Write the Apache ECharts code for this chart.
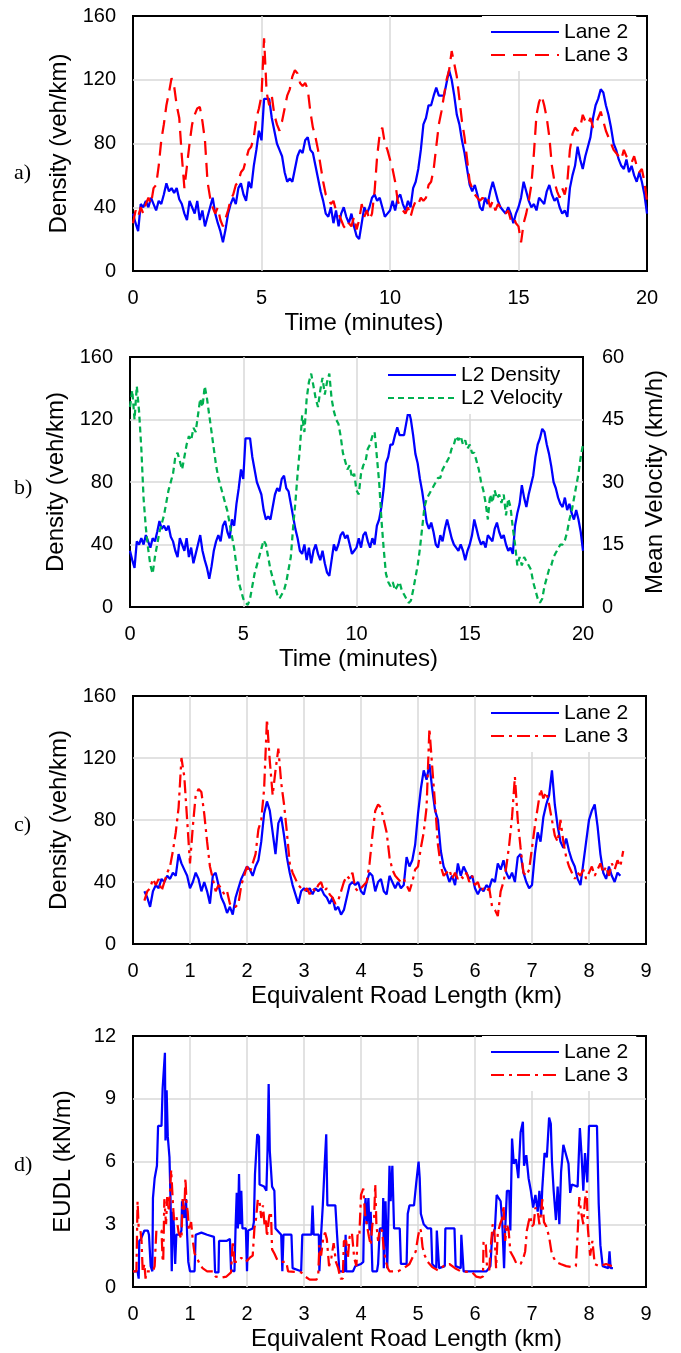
<!DOCTYPE html>
<html>
<head>
<meta charset="utf-8">
<title>Lane density, velocity and EUDL</title>
<script src="https://cdn.jsdelivr.net/npm/echarts@6/dist/echarts.min.js"></script>
<style>
    html, body { margin: 0; padding: 0; background: #fff; }
    #chart { width: 681px; height: 1353px; }
</style>
</head>
<body>
<div id="chart"></div>
<script>
// readings every 0.1 min, t = 0 .. 20
var timeStep = 0.1;
var lane2Density = [
    36, 30, 25, 42, 40, 44, 40, 46, 42, 38,
    44, 42, 48, 55, 50, 52, 49, 52, 45, 42,
    36, 32, 44, 40, 36, 44, 32, 38, 28, 34,
    40, 46, 36, 30, 25, 18, 26, 36, 42, 46,
    42, 52, 55, 48, 44, 56, 52, 66, 76, 88,
    82, 108, 108, 108, 96, 88, 80, 76, 72, 62,
    56, 58, 56, 64, 72, 76, 74, 82, 84, 76,
    74, 66, 58, 50, 44, 36, 34, 40, 30, 38,
    28, 36, 40, 34, 30, 36, 28, 22, 20, 30,
    40, 36, 40, 46, 48, 44, 46, 40, 34, 36,
    38, 44, 38, 46, 48, 42, 38, 44, 40, 52,
    56, 64, 76, 92, 96, 104, 104, 110, 115, 110,
    110, 110, 118, 126, 120, 110, 98, 92, 82, 74,
    64, 54, 50, 54, 48, 40, 38, 46, 42, 50,
    56, 50, 44, 40, 38, 36, 40, 36, 30, 36,
    40, 46, 56, 50, 44, 40, 42, 38, 46, 44,
    42, 50, 54, 48, 44, 46, 40, 36, 38, 34,
    52, 60, 66, 78, 70, 64, 72, 78, 84, 96,
    104, 108, 114, 112, 104, 98, 90, 80, 76, 70,
    66, 64, 70, 62, 66, 60, 56, 62, 56, 48,
    36
];
var lane3Density = [
    30, 38, 34, 40, 36, 42, 46, 42, 52, 54,
    66, 82, 92, 104, 112, 121, 116, 104, 96, 72,
    52, 66, 80, 92, 98, 102, 103, 94, 82, 56,
    46, 40, 36, 40, 32, 28, 33, 38, 45, 48,
    54, 56, 62, 64, 70, 76, 78, 84, 96, 102,
    110, 146, 112, 104, 110, 98, 92, 88, 94, 102,
    110, 114, 122, 126, 124, 118, 116, 118, 114, 100,
    90, 84, 76, 66, 56, 48, 46, 42, 44, 38,
    36, 32, 28, 26, 30, 28, 34, 26, 32, 42,
    34, 38, 32, 36, 50, 72, 86, 90, 80, 76,
    70, 64, 56, 44, 40, 38, 36, 40, 34, 40,
    44, 42, 46, 44, 46, 54, 56, 64, 78, 92,
    100, 110, 120, 126, 138, 130, 122, 108, 94, 84,
    70, 56, 52, 48, 46, 44, 46, 44, 46, 40,
    44, 38, 42, 40, 38, 36, 38, 32, 34, 30,
    28, 18, 30, 36, 44, 54, 74, 98, 106, 110,
    104, 96, 84, 66, 56, 50, 46, 52, 48, 56,
    76, 86, 90, 88, 90, 98, 94, 92, 96, 90,
    92, 96, 100, 94, 88, 84, 80, 76, 74, 72,
    70, 76, 72, 70, 68, 72, 66, 62, 64, 56,
    44
];
var lane2Velocity = [
    48, 52, 45, 53, 47, 38, 26, 19, 14, 10,
    8, 12, 15, 18, 20, 22, 25, 28, 30, 32,
    36, 37, 35, 33, 36, 39, 41, 40, 43, 42,
    46, 50, 48, 53, 50, 46, 42, 38, 34, 31,
    29, 27, 25, 23, 20, 17, 14, 10, 6, 4,
    2, 1, 0.5, 2, 5, 8, 10, 12, 14, 16,
    15, 12, 9, 7, 5, 3, 2, 3, 4, 6,
    9, 12, 19, 25, 32, 38, 46, 42, 50, 54,
    56, 53, 50, 48, 52, 55, 51, 54, 56, 50,
    47, 45, 44, 41, 37, 35, 33, 34, 31, 32,
    28, 27, 32, 34, 35, 38, 39, 41, 42, 36,
    30, 21, 14, 8, 6, 5, 6, 4, 5, 6,
    4, 3, 2, 1, 1.5, 4, 7, 10, 14, 19,
    24, 26, 27, 28, 29, 30, 31, 31, 33, 34,
    35, 36, 38, 39, 41, 40, 41, 39, 40, 38,
    39, 37, 37, 35, 33, 30, 28, 25, 21, 27,
    25, 28, 26, 27, 25, 27, 22, 26, 24, 19,
    15, 10, 12, 10, 12, 11, 10, 9, 6, 4,
    2, 1, 2, 5, 7, 9, 10, 12, 13, 14,
    15, 15, 16, 18, 21, 23, 26, 29, 32, 36,
    39
];

// readings every 0.05 km of equivalent road length, from 0.2 km
var lenStart = 0.2;
var lenStep = 0.05;
var lane2DensityLen = [
    34, 30, 24, 34, 38, 36, 42, 40, 44, 42,
    46, 44, 58, 52, 48, 44, 36, 40, 46, 42,
    34, 40, 34, 26, 44, 46, 38, 30, 26, 20,
    24, 19, 30, 36, 42, 46, 50, 48, 44, 50,
    54, 66, 84, 92, 86, 72, 58, 78, 82, 70,
    56, 46, 38, 32, 26, 34, 36, 34, 36, 32,
    36, 34, 36, 32, 30, 26, 30, 22, 24, 19,
    22, 30, 38, 40, 38, 40, 34, 32, 40, 46,
    44, 34, 40, 42, 34, 32, 44, 40, 36, 40,
    36, 38, 56, 50, 54, 64, 84, 100, 112, 106,
    116, 100, 86, 80, 60, 50, 46, 40, 44, 38,
    52, 44, 50, 46, 42, 44, 36, 32, 36, 34,
    38, 36, 42, 40, 52, 48, 54, 46, 42, 46,
    40, 56, 58, 46, 40, 36, 38, 58, 72, 66,
    82, 90, 96, 112, 90, 76, 66, 62, 68, 60,
    54, 50, 42, 38, 52, 66, 80, 86, 90, 76,
    58, 46, 42, 50, 44, 40, 46, 44
];
var lane3DensityLen = [
    28, 34, 36, 42, 38, 42, 34, 40, 46, 50,
    60, 72, 88, 120, 108, 80, 52, 76, 96, 100,
    98, 84, 66, 50, 42, 34, 38, 36, 32, 34,
    26, 24, 24, 26, 38, 44, 50, 46, 52, 58,
    74, 80, 100, 145, 118, 96, 112, 126, 104, 90,
    72, 52, 46, 42, 38, 36, 34, 36, 32, 36,
    34, 38, 40, 34, 36, 32, 30, 26, 28, 34,
    40, 44, 42, 46, 36, 34, 36, 38, 40, 52,
    70, 86, 90, 88, 80, 72, 56, 48, 44, 42,
    40, 42, 38, 34, 40, 48, 50, 62, 72, 88,
    139, 114, 90, 64, 50, 44, 46, 48, 42, 46,
    42, 44, 42, 46, 40, 44, 38, 40, 34, 36,
    34, 36, 24, 22, 18, 34, 40, 50, 64, 82,
    108, 80, 62, 46, 44, 48, 62, 76, 88, 100,
    94, 98, 90, 80, 70, 66, 80, 66, 56, 50,
    46, 42, 46, 44, 48, 42, 46, 50, 44, 48,
    52, 46, 50, 44, 52, 48, 54, 50, 60
];

// EUDL (kN/m) as [km, value]
var lane2Eudl = [
    [0, 0.75], [0.08, 0.75], [0.1, 0.4], [0.11, 2.2], [0.14, 2.3], [0.2, 2.7], [0.26, 2.7],
    [0.28, 2.5], [0.31, 1.0], [0.34, 0.75], [0.35, 4.25], [0.38, 5.2], [0.42, 5.8], [0.44, 7.7],
    [0.5, 7.7], [0.52, 9.5], [0.56, 11.2], [0.57, 7.0], [0.59, 9.4], [0.61, 7.2], [0.64, 6.2],
    [0.66, 4.0], [0.68, 0.75], [0.7, 3.6], [0.72, 2.8], [0.74, 1.1], [0.76, 2.5], [0.82, 2.5],
    [0.85, 2.7], [0.86, 4.1], [0.9, 3.3], [0.93, 4.2], [0.95, 2.5], [0.97, 1.2], [1.0, 0.75],
    [1.08, 0.75], [1.1, 2.5], [1.2, 2.6], [1.3, 2.5], [1.42, 2.4], [1.44, 0.7], [1.5, 0.7],
    [1.51, 2.2], [1.64, 2.2], [1.7, 2.3], [1.72, 0.8], [1.78, 0.75], [1.8, 2.9], [1.82, 4.5],
    [1.84, 2.8], [1.86, 5.4], [1.88, 3.0], [1.9, 4.6], [1.92, 2.8], [1.98, 2.8], [2.0, 0.75],
    [2.02, 2.7], [2.1, 2.8], [2.12, 3.1], [2.14, 5.4], [2.18, 7.3], [2.21, 7.2], [2.22, 4.9],
    [2.3, 4.8], [2.34, 4.6], [2.36, 6.5], [2.38, 9.7], [2.4, 6.5], [2.44, 4.8], [2.48, 4.6],
    [2.5, 2.8], [2.6, 2.5], [2.62, 0.75], [2.64, 2.5], [2.78, 2.5], [2.8, 0.9], [2.95, 0.75],
    [2.97, 2.5], [3.13, 2.5], [3.15, 3.9], [3.17, 2.5], [3.26, 2.5], [3.27, 0.75], [3.3, 2.5],
    [3.33, 3.9], [3.36, 5.7], [3.39, 7.3], [3.41, 3.9], [3.55, 3.9], [3.58, 2.5], [3.61, 2.5],
    [3.62, 0.75], [3.72, 0.75], [3.73, 2.5], [3.74, 0.75], [3.86, 0.75], [3.9, 1.0], [4.0, 1.1],
    [4.04, 1.2], [4.05, 3.0], [4.08, 4.25], [4.1, 3.0], [4.13, 4.25], [4.15, 2.7], [4.17, 3.6],
    [4.2, 0.75], [4.28, 0.75], [4.3, 1.1], [4.33, 2.8], [4.38, 2.8], [4.39, 4.25], [4.4, 0.9],
    [4.43, 4.1], [4.46, 0.9], [4.5, 5.8], [4.52, 4.1], [4.55, 5.8], [4.58, 2.8], [4.68, 2.8],
    [4.7, 1.1], [4.8, 1.1], [4.82, 3.5], [4.85, 3.9], [4.93, 3.9], [4.97, 5.0], [5.01, 6.0],
    [5.03, 5.2], [5.05, 3.5], [5.1, 3.0], [5.17, 2.8], [5.23, 2.8], [5.25, 1.1], [5.32, 0.9],
    [5.33, 2.7], [5.36, 2.7], [5.37, 0.9], [5.47, 1.0], [5.48, 2.8], [5.64, 2.8], [5.66, 1.0],
    [5.75, 0.9], [5.76, 2.5], [5.78, 2.5], [5.8, 0.75], [6.2, 0.75], [6.27, 1.0], [6.3, 2.4],
    [6.35, 2.8], [6.38, 4.4], [6.45, 4.1], [6.48, 3.0], [6.51, 0.9], [6.53, 2.8], [6.56, 4.6],
    [6.6, 4.6], [6.62, 2.7], [6.65, 7.1], [6.68, 5.9], [6.72, 6.1], [6.76, 5.2], [6.8, 7.4],
    [6.84, 7.9], [6.86, 5.8], [6.9, 6.3], [6.94, 5.2], [6.98, 4.6], [7.02, 3.8], [7.06, 4.4],
    [7.1, 3.6], [7.13, 4.6], [7.16, 3.4], [7.18, 4.7], [7.22, 6.4], [7.26, 6.2], [7.3, 8.1],
    [7.33, 7.8], [7.35, 6.0], [7.38, 4.6], [7.42, 3.2], [7.45, 4.8], [7.48, 3.0], [7.51, 5.5],
    [7.55, 6.8], [7.6, 6.3], [7.64, 5.9], [7.67, 4.5], [7.7, 4.9], [7.8, 4.8], [7.84, 7.6],
    [7.87, 6.3], [7.9, 4.6], [7.93, 6.4], [7.97, 5.0], [8.0, 7.7], [8.14, 7.7], [8.17, 4.0],
    [8.2, 2.0], [8.24, 1.0], [8.34, 0.9], [8.36, 1.7], [8.38, 0.9], [8.42, 0.9]
];
var lane3Eudl = [
    [0, 0.75], [0.06, 0.75], [0.08, 4.1], [0.1, 2.8], [0.13, 2.7], [0.15, 2.2], [0.17, 0.75],
    [0.2, 1.1], [0.22, 0.4], [0.24, 0.75], [0.35, 0.75], [0.38, 1.0], [0.41, 2.7], [0.5, 2.7],
    [0.52, 1.3], [0.53, 1.2], [0.55, 4.2], [0.58, 3.0], [0.6, 4.3], [0.63, 3.6], [0.67, 5.6],
    [0.7, 4.0], [0.72, 3.2], [0.76, 3.4], [0.8, 2.6], [0.85, 2.3], [0.87, 4.2], [0.9, 3.6],
    [0.92, 5.2], [0.94, 4.0], [0.96, 3.6], [0.98, 2.7], [1.02, 3.1], [1.05, 2.2], [1.08, 1.6],
    [1.12, 1.4], [1.17, 1.1], [1.22, 0.9], [1.3, 0.75], [1.4, 0.75], [1.45, 0.5], [1.55, 0.45],
    [1.64, 0.5], [1.72, 0.7], [1.75, 2.2], [1.78, 1.2], [1.84, 1.2], [1.9, 1.4], [1.98, 1.2],
    [2.05, 1.4], [2.1, 1.5], [2.13, 2.8], [2.16, 3.3], [2.19, 4.2], [2.22, 4.1], [2.25, 3.3],
    [2.28, 3.9], [2.31, 2.9], [2.33, 3.3], [2.35, 2.4], [2.39, 3.4], [2.42, 3.6], [2.44, 1.8],
    [2.48, 1.6], [2.53, 1.3], [2.6, 1.2], [2.69, 1.2], [2.72, 0.75], [2.95, 0.7], [3.02, 0.5],
    [3.1, 0.35], [3.22, 0.35], [3.25, 0.6], [3.27, 2.0], [3.3, 1.5], [3.34, 2.4], [3.37, 2.6],
    [3.4, 2.3], [3.44, 1.0], [3.48, 1.4], [3.52, 2.1], [3.56, 1.2], [3.6, 0.9], [3.64, 0.4],
    [3.68, 0.4], [3.7, 2.2], [3.74, 2.2], [3.77, 1.4], [3.8, 2.4], [3.84, 2.6], [3.88, 1.4],
    [3.92, 1.0], [3.94, 2.5], [3.97, 2.4], [4.0, 4.4], [4.04, 4.7], [4.07, 3.5], [4.1, 3.0],
    [4.14, 2.4], [4.17, 2.0], [4.2, 3.0], [4.23, 3.3], [4.25, 4.9], [4.27, 3.0], [4.3, 2.2],
    [4.33, 2.8], [4.37, 2.7], [4.4, 1.8], [4.43, 1.3], [4.47, 0.9], [4.5, 0.75], [4.65, 0.75],
    [4.75, 0.9], [4.85, 1.1], [4.92, 1.5], [4.96, 1.7], [5.0, 2.4], [5.03, 2.8], [5.05, 2.7],
    [5.08, 1.9], [5.12, 1.5], [5.17, 1.2], [5.25, 0.95], [5.35, 0.8], [5.45, 1.0], [5.55, 1.1],
    [5.65, 0.9], [5.75, 0.75], [5.95, 0.7], [6.02, 0.5], [6.1, 0.45], [6.14, 0.5], [6.15, 2.2],
    [6.19, 2.0], [6.21, 1.0], [6.25, 0.8], [6.27, 1.7], [6.31, 3.0], [6.34, 2.7], [6.37, 0.9],
    [6.4, 2.6], [6.44, 3.0], [6.48, 3.3], [6.5, 3.9], [6.53, 2.2], [6.56, 3.0], [6.59, 2.7],
    [6.62, 1.7], [6.68, 1.4], [6.73, 1.1], [6.8, 1.1], [6.85, 1.4], [6.88, 1.7], [6.91, 2.7],
    [6.94, 3.1], [6.97, 3.4], [7.0, 2.9], [7.03, 3.0], [7.06, 3.8], [7.1, 3.6], [7.13, 3.0],
    [7.16, 3.5], [7.18, 4.2], [7.21, 3.1], [7.25, 2.9], [7.3, 2.4], [7.34, 1.7], [7.38, 1.4],
    [7.42, 1.2], [7.5, 1.1], [7.6, 1.0], [7.7, 0.95], [7.77, 1.0], [7.8, 2.5], [7.83, 4.3],
    [7.86, 3.6], [7.9, 3.0], [7.93, 4.2], [7.96, 4.6], [7.98, 2.8], [8.02, 1.5], [8.06, 2.2],
    [8.1, 1.1], [8.18, 1.0], [8.3, 1.1], [8.4, 1.0]
];

(function () {
    var FONT = '"Liberation Sans", Arial, sans-serif';
    var SERIF = '"Liberation Serif", "Times New Roman", serif';
    var GRID_GREY = '#d9d9d9';
    var BLUE = '#0000ff', RED = '#ff0000', GREEN = '#00b050';
    var LANE3_DASH = [14, 8];
    var LANE3_DASHDOT = [13, 5, 3, 5];
    var VEL_DASH = [6, 4];
    var NO_MARKER = { color: 'rgba(0,0,0,0)', borderWidth: 0, opacity: 0 };

    var obj = {
        init: function () {
            var chart = echarts.init(document.getElementById('chart'));
            chart.setOption(this.getOption());
        },
        alongTime: function (values) {
            return values.map(function (v, i) {
                return [Math.round(i * timeStep * 100) / 100, v];
            });
        },
        alongRoad: function (values) {
            return values.map(function (v, i) {
                return [Math.round((lenStart + i * lenStep) * 100) / 100, v];
            });
        },
        namePad: function (shift) {
            return shift >= 0 ? [0, 0, 0, shift * 2] : [0, -shift * 2, 0, 0];
        },
        xAxis: function (gridIndex, max, interval, name, shift) {
            return {
                type: 'value', gridIndex: gridIndex,
                min: 0, max: max, interval: interval,
                name: name, nameLocation: 'middle', nameGap: 40,
                nameTextStyle: { fontFamily: FONT, fontSize: 24, color: '#000', padding: this.namePad(shift) },
                axisLine: { show: false },
                axisTick: { show: false },
                axisLabel: { fontFamily: FONT, fontSize: 20, color: '#000', margin: 17 },
                splitLine: {
                    show: true, showMinLine: false, showMaxLine: false,
                    lineStyle: { color: GRID_GREY, width: 1.5 }
                }
            };
        },
        yAxis: function (gridIndex, max, interval, name, right) {
            return {
                type: 'value', gridIndex: gridIndex,
                position: right ? 'right' : 'left',
                min: 0, max: max, interval: interval,
                name: name, nameLocation: 'middle', nameGap: right ? 60 : 58,
                nameTextStyle: { fontFamily: FONT, fontSize: 24, color: '#000' },
                axisLine: { show: false },
                axisTick: { show: false },
                axisLabel: { fontFamily: FONT, fontSize: 20, color: '#000', margin: right ? 19 : 17 },
                splitLine: {
                    show: !right, showMinLine: false, showMaxLine: false,
                    lineStyle: { color: GRID_GREY, width: 1.5 }
                }
            };
        },
        line: function (name, x, y, data, color, dash) {
            return {
                name: name, type: 'line',
                xAxisIndex: x, yAxisIndex: y,
                data: data,
                showSymbol: false, symbol: 'none',
                lineStyle: { color: color, width: 2.25, type: dash || 'solid' },
                itemStyle: { color: color },
                emphasis: { disabled: true }
            };
        },
        legend: function (left, top, items) {
            return {
                orient: 'vertical', left: left, top: top,
                padding: [5, 8, 5, 8], backgroundColor: '#fff',
                itemWidth: 68, itemHeight: 14, itemGap: 1,
                selectedMode: false,
                itemStyle: NO_MARKER,
                textStyle: { fontFamily: FONT, fontSize: 21, color: '#000', lineHeight: 22 },
                data: items
            };
        },
        letter: function (text, y) {
            return {
                type: 'text', left: 14, top: y - 12,
                style: { text: text, font: '22px ' + SERIF, fill: '#000' }
            };
        },
        getOption: function () {
            var grid = {
                show: true, borderColor: '#000', borderWidth: 2,
                backgroundColor: 'transparent', containLabel: false
            };
            return {
                animation: false,
                backgroundColor: '#fff',
                grid: [
                    Object.assign({ left: 133, top: 16, width: 514, height: 255 }, grid),
                    Object.assign({ left: 130, top: 357, width: 453, height: 250 }, grid),
                    Object.assign({ left: 133, top: 696, width: 513, height: 248 }, grid),
                    Object.assign({ left: 133, top: 1036, width: 513, height: 251 }, grid)
                ],
                xAxis: [
                    this.xAxis(0, 20, 5, 'Time (minutes)', -26),
                    this.xAxis(1, 20, 5, 'Time (minutes)', 2),
                    this.xAxis(2, 9, 1, 'Equivalent Road Length (km)', 17),
                    this.xAxis(3, 9, 1, 'Equivalent Road Length (km)', 17)
                ],
                yAxis: [
                    this.yAxis(0, 160, 40, 'Density (veh/km)'),
                    this.yAxis(1, 160, 40, 'Density (veh/km)'),
                    this.yAxis(1, 60, 15, 'Mean Velocity (km/h)', true),
                    this.yAxis(2, 160, 40, 'Density (veh/km)'),
                    this.yAxis(3, 12, 3, 'EUDL (kN/m)')
                ],
                legend: [
                    this.legend(482, 16, [
                        { name: 'Lane 2', lineStyle: { type: 'solid' } },
                        { name: 'Lane 3', lineStyle: { type: LANE3_DASH } }
                    ]),
                    this.legend(379, 359, [
                        { name: 'L2 Density' },
                        { name: 'L2 Velocity' }
                    ]),
                    this.legend(482, 697, [
                        { name: 'Lane 2', lineStyle: { type: 'solid' } },
                        { name: 'Lane 3', lineStyle: { type: LANE3_DASHDOT } }
                    ]),
                    this.legend(482, 1036, [
                        { name: 'Lane 2', lineStyle: { type: 'solid' } },
                        { name: 'Lane 3', lineStyle: { type: LANE3_DASHDOT } }
                    ])
                ],
                series: [
                    this.line('Lane 2', 0, 0, this.alongTime(lane2Density), BLUE),
                    this.line('Lane 3', 0, 0, this.alongTime(lane3Density), RED, LANE3_DASH),
                    this.line('L2 Density', 1, 1, this.alongTime(lane2Density), BLUE),
                    this.line('L2 Velocity', 1, 2, this.alongTime(lane2Velocity), GREEN, VEL_DASH),
                    this.line('Lane 2', 2, 3, this.alongRoad(lane2DensityLen), BLUE),
                    this.line('Lane 3', 2, 3, this.alongRoad(lane3DensityLen), RED, LANE3_DASHDOT),
                    this.line('Lane 2', 3, 4, lane2Eudl, BLUE),
                    this.line('Lane 3', 3, 4, lane3Eudl, RED, LANE3_DASHDOT)
                ],
                graphic: [
                    this.letter('a)', 174),
                    this.letter('b)', 489),
                    this.letter('c)', 826),
                    this.letter('d)', 1166)
                ]
            };
        }
    };
    obj.init();
})();
</script>
</body>
</html>
